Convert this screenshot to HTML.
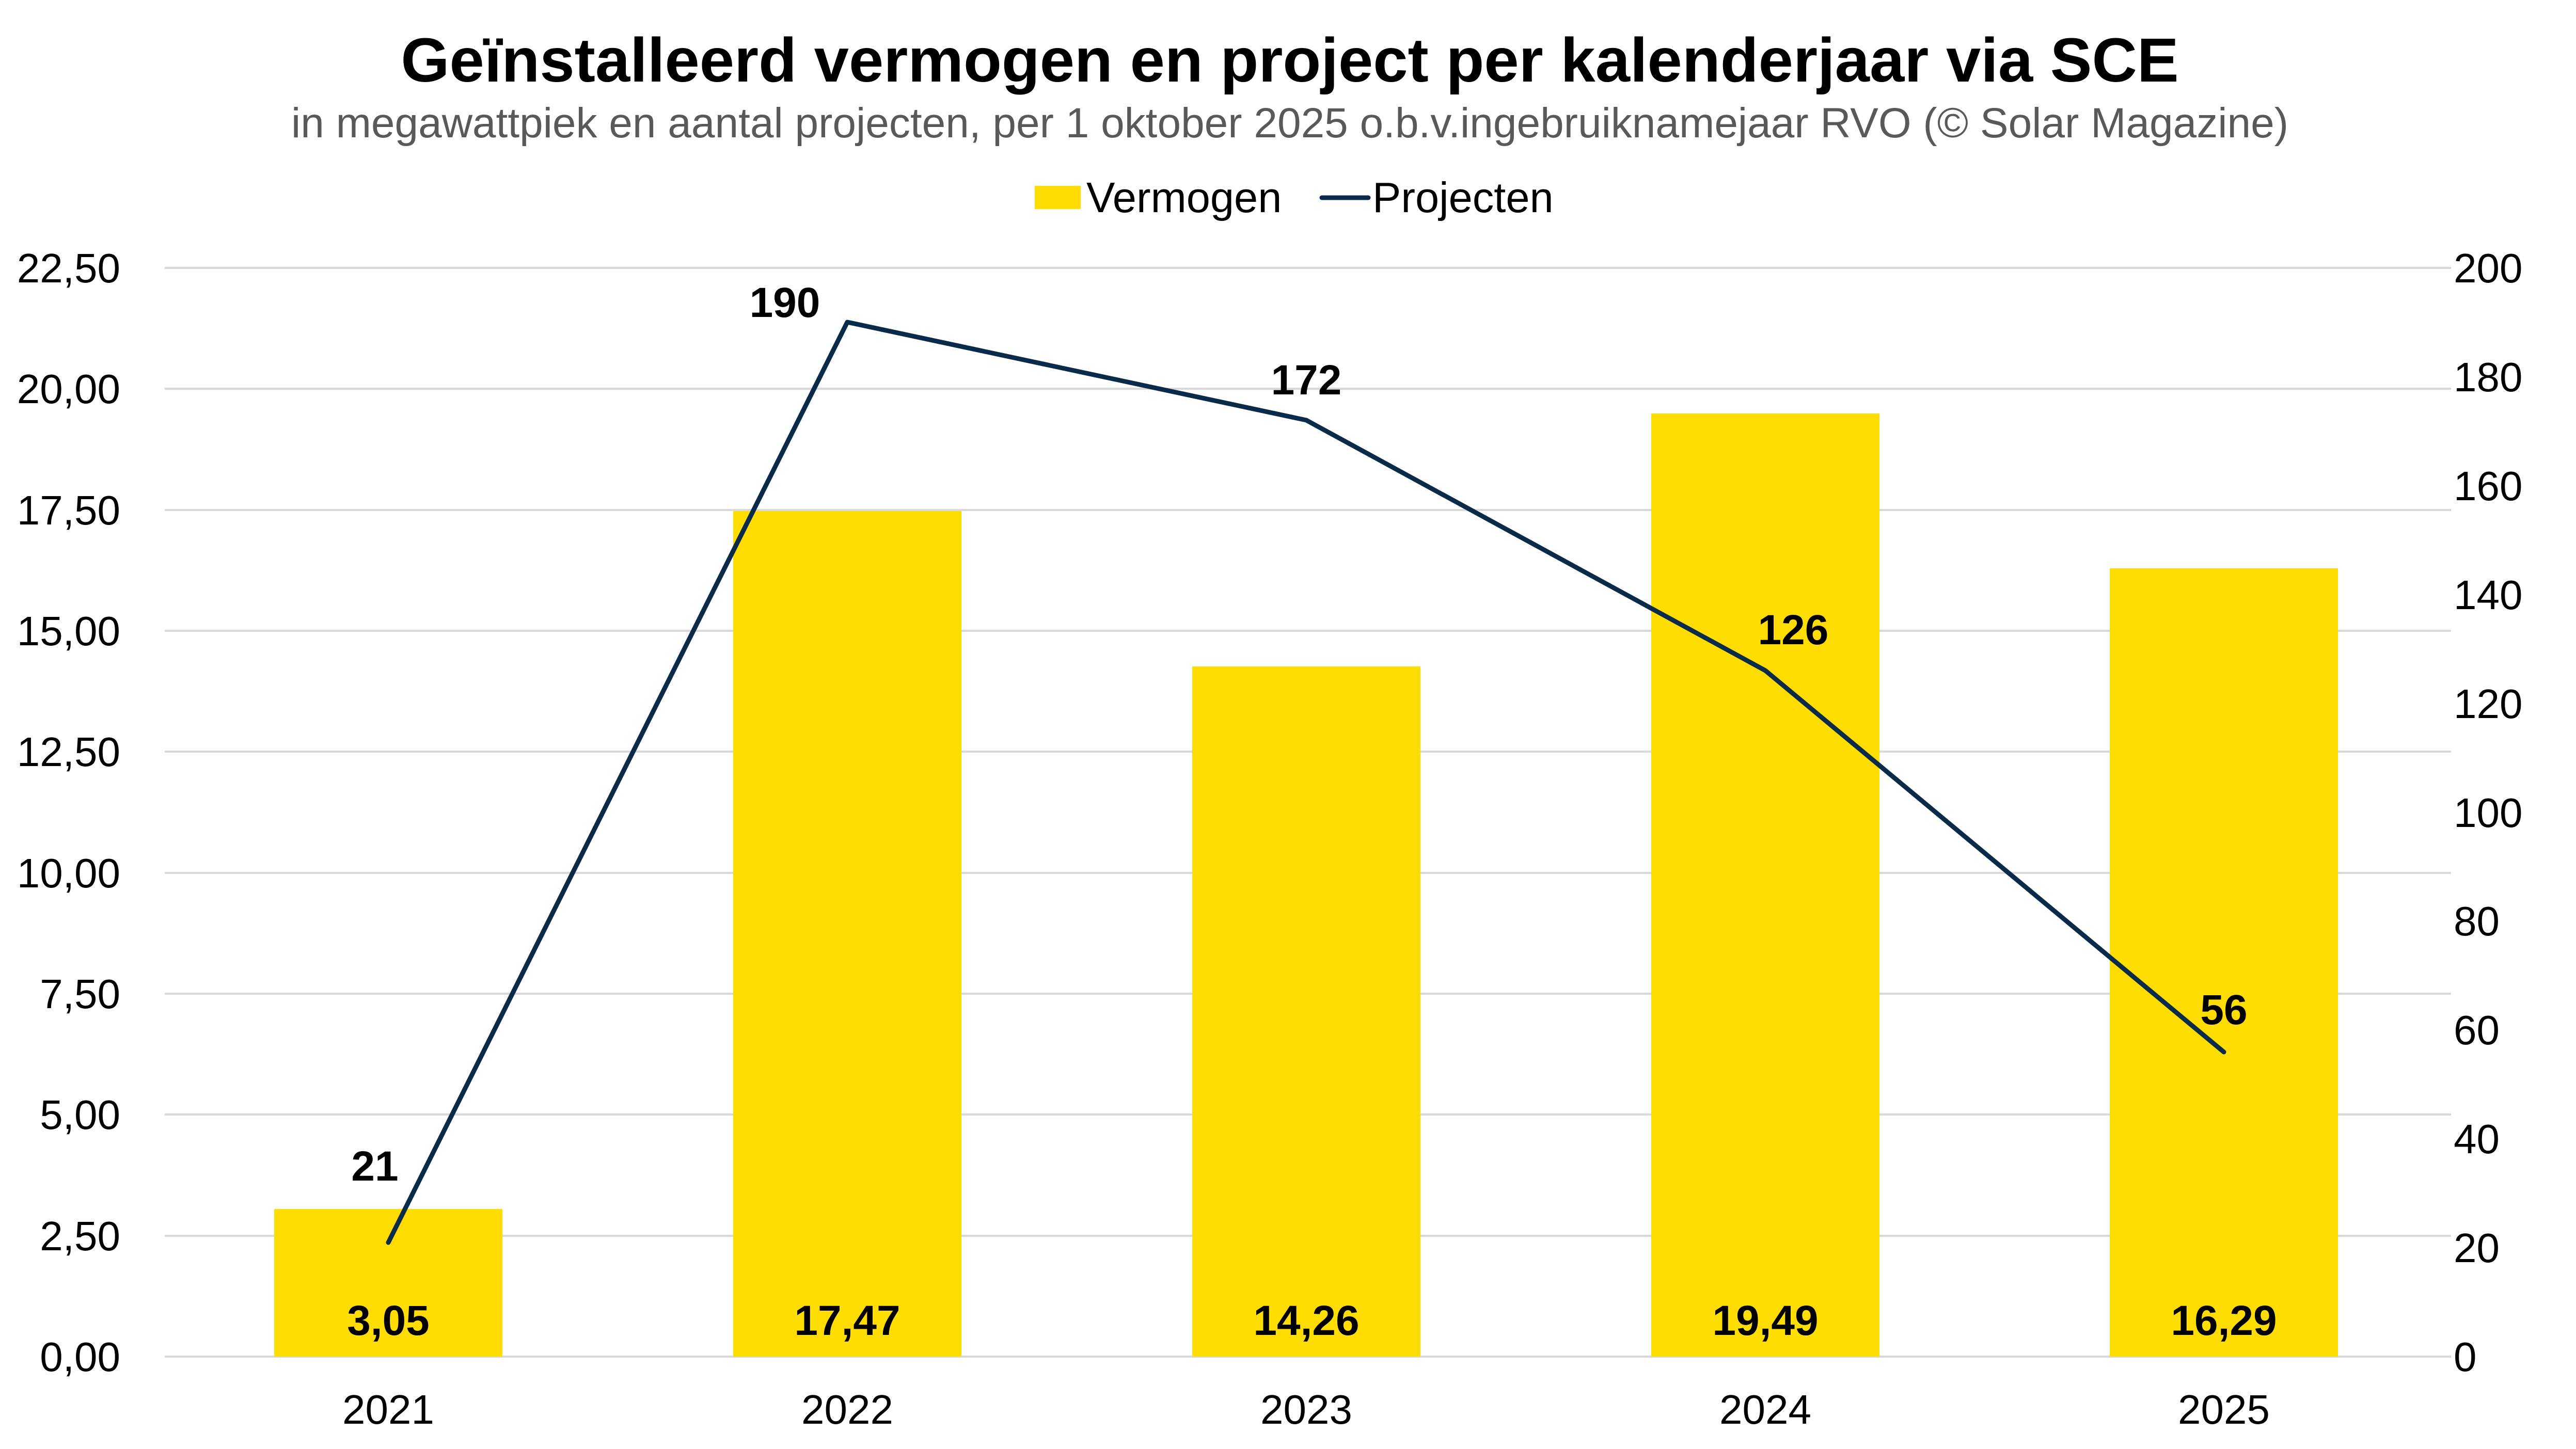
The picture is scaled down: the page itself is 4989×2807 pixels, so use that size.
<!DOCTYPE html>
<html><head><meta charset="utf-8"><style>
html,body{margin:0;padding:0;background:#fff}
svg{display:block}
text{font-family:"Liberation Sans",Arial,sans-serif}
</style></head><body>
<svg width="4989" height="2807" viewBox="0 0 4989 2807" xmlns="http://www.w3.org/2000/svg">
<text x="2498" y="158" font-size="121" font-weight="bold" text-anchor="middle" fill="#000">Geïnstalleerd vermogen en project per kalenderjaar via SCE</text>
<text x="2498" y="266" font-size="82" text-anchor="middle" fill="#595959">in megawattpiek en aantal projecten, per 1 oktober 2025 o.b.v.ingebruiknamejaar RVO (© Solar Magazine)</text>
<rect x="2004" y="360" width="89" height="45" fill="#FFDD00"/>
<text x="2104" y="411" font-size="83" fill="#000">Vermogen</text>
<line x1="2560" y1="383" x2="2650" y2="383" stroke="#0a2a4a" stroke-width="9" stroke-linecap="round"/>
<text x="2658" y="411" font-size="83" fill="#000">Projecten</text>
<g stroke="#d9d9d9" stroke-width="4">
<line x1="319" y1="519" x2="4747" y2="519"/>
<line x1="319" y1="753" x2="4747" y2="753"/>
<line x1="319" y1="988" x2="4747" y2="988"/>
<line x1="319" y1="1222" x2="4747" y2="1222"/>
<line x1="319" y1="1456" x2="4747" y2="1456"/>
<line x1="319" y1="1691" x2="4747" y2="1691"/>
<line x1="319" y1="1925" x2="4747" y2="1925"/>
<line x1="319" y1="2159" x2="4747" y2="2159"/>
<line x1="319" y1="2394" x2="4747" y2="2394"/>
<line x1="319" y1="2628" x2="4747" y2="2628"/>
</g>
<g font-size="80" text-anchor="end" fill="#000">
<text x="233" y="547">22,50</text>
<text x="233" y="781">20,00</text>
<text x="233" y="1016">17,50</text>
<text x="233" y="1250">15,00</text>
<text x="233" y="1484">12,50</text>
<text x="233" y="1719">10,00</text>
<text x="233" y="1953">7,50</text>
<text x="233" y="2187">5,00</text>
<text x="233" y="2422">2,50</text>
<text x="233" y="2656">0,00</text>
</g>
<g font-size="80" text-anchor="start" fill="#000">
<text x="4752" y="547">200</text>
<text x="4752" y="758">180</text>
<text x="4752" y="969">160</text>
<text x="4752" y="1180">140</text>
<text x="4752" y="1391">120</text>
<text x="4752" y="1602">100</text>
<text x="4752" y="1812">80</text>
<text x="4752" y="2023">60</text>
<text x="4752" y="2234">40</text>
<text x="4752" y="2445">20</text>
<text x="4752" y="2656">0</text>
</g>
<g fill="#FFDD00">
<rect x="531" y="2342" width="442" height="286"/>
<rect x="1420" y="990" width="442" height="1638"/>
<rect x="2309" y="1291" width="442" height="1337"/>
<rect x="3198" y="801" width="442" height="1827"/>
<rect x="4086" y="1101" width="442" height="1527"/>
</g>
<polyline points="752,2407 1641,624 2530,814 3419,1299 4307,2038" fill="none" stroke="#0a2a4a" stroke-width="9" stroke-linejoin="round" stroke-linecap="round"/>
<g font-size="82" font-weight="bold" text-anchor="middle" fill="#000">
<text x="752" y="2586">3,05</text>
<text x="1641" y="2586">17,47</text>
<text x="2530" y="2586">14,26</text>
<text x="3419" y="2586">19,49</text>
<text x="4307" y="2586">16,29</text>
<text x="726" y="2287">21</text>
<text x="1520" y="614">190</text>
<text x="2530" y="764">172</text>
<text x="3473" y="1248">126</text>
<text x="4307" y="1984">56</text>
</g>
<g font-size="80" text-anchor="middle" fill="#000">
<text x="752" y="2758">2021</text>
<text x="1641" y="2758">2022</text>
<text x="2530" y="2758">2023</text>
<text x="3419" y="2758">2024</text>
<text x="4307" y="2758">2025</text>
</g>
</svg>
</body></html>
